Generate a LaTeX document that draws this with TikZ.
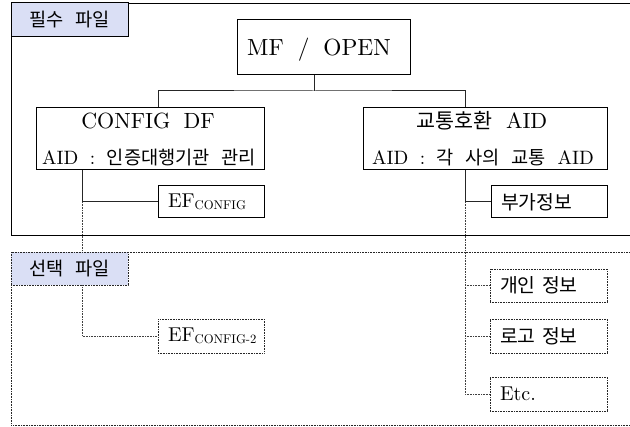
\documentclass[tikz,border=0pt]{standalone}
\usepackage{fontspec}
\setmainfont{lmroman10-regular.otf}[WordSpace=1.8]
\newfontfamily\kr{Noto Sans CJK KR}[WordSpace=2.8]
\definecolor{labfill}{RGB}{218,223,245}
\begin{document}
\begin{tikzpicture}[x=0.75pt,y=-0.75pt,
  box/.style={draw=black, line width=0.75pt, inner sep=0pt},
  dbox/.style={draw=black!85, line width=0.6pt, dash pattern=on 0.6pt off 0.6pt, inner sep=0pt},
  conn/.style={draw=black!85, line width=0.75pt},
  dconn/.style={draw=black!75, line width=0.6pt, dash pattern=on 0.6pt off 0.6pt},
  labtext/.style={font=\kr\fontsize{14}{15}\selectfont},
  krsmall/.style={font=\kr\fontsize{14.5}{16}\selectfont},
  lmsmall/.style={font=\fontsize{15}{16}\selectfont},
  leftbox/.style={inner xsep=7.5pt, inner ysep=0pt, text width=#1, align=left},
  bigtext/.style={font=\fontsize{16.5}{18}\selectfont, anchor=base},
  midtext/.style={font=\fontsize{14.5}{16}\selectfont, anchor=base}
]
\useasboundingbox (0,0) rectangle (630,427);
\fill[white] (0,0) rectangle (630,427);

% frames
\node[box, anchor=north west, minimum width=471.75pt, minimum height=174pt] (req) at (11,3) {};
\node[dbox, anchor=north west, minimum width=471.75pt, minimum height=129.75pt] (opt) at (11,252) {};

% labels
\node[box, fill=labfill, minimum width=87.75pt, minimum height=25.5pt, labtext] (lab1) at (69.5,20) {필수 파일};
\node[dbox, fill=labfill, minimum width=87.75pt, minimum height=24.75pt, labtext] (lab2) at (69.5,268.5) {선택 파일};

% main boxes
\node[box, minimum width=129.75pt, minimum height=41.25pt] (mf) at (323.5,47.5) {};
\node[font=\fontsize{17.5}{20}\selectfont, anchor=base] (mft) at (319,56) {MF / OPEN};

\node[box, minimum width=171pt, minimum height=46.5pt] (cfg) at (150,138.5) {};
\node[bigtext] (cfg1) at (148,129) {CONFIG DF};
\node[midtext] (cfg2) at (149,164.5) {AID : {\kr\fontsize{14}{16}\selectfont 인증대행기관 관리}};

\node[box, minimum width=183pt, minimum height=46.5pt] (tr) at (485,138.5) {};
\node[bigtext] (tr1) at (482,129) {{\kr\fontsize{15.5}{18}\selectfont 교통호환} AID};
\node[midtext] (tr2) at (483,164.5) {AID : {\kr\fontsize{14}{16}\selectfont 각 사의 교통} AID};

% small boxes
\node[box, leftbox=64.5pt, minimum height=24pt, lmsmall] (efc) at (211,202)
  {EF\raisebox{-1.5pt}{\fontsize{9.5}{10}\selectfont CONFIG}};
\node[box, leftbox=72pt, minimum height=24pt, krsmall] (bu) at (549,202) {부가정보};

\node[dbox, leftbox=64.5pt, minimum height=25.5pt, lmsmall] (efc2) at (211,336)
  {EF\raisebox{-1.5pt}{\fontsize{9.5}{10}\selectfont CONFIG-2}};
\node[dbox, leftbox=72.75pt, minimum height=24.75pt, krsmall] (g1) at (548.5,285.5) {개인 정보};
\node[dbox, leftbox=72.75pt, minimum height=25.5pt, krsmall] (g2) at (548.5,336) {로고 정보};
\node[dbox, leftbox=72.75pt, minimum height=25.5pt, lmsmall] (g3) at (548.5,394) {Etc.};

% helper coordinates
\coordinate (j1) at (314,91);
\coordinate (xa) at (158,0);
\coordinate (xb) at (465,0);
\coordinate (xc) at (82,0);

% solid connectors
\draw[conn] (mf.south -| j1) -- (j1);
\draw[conn] (cfg.north -| xa) |- (j1) -| (tr.north -| xb);
\draw[conn] (cfg.south -| xc) |- (efc.west);
\draw[conn] (tr.south -| xb) |- (bu.west);

% dotted connectors
\draw[dconn] (efc.west -| xc) -- (lab2.north -| xc);
\draw[dconn] (lab2.south -| xc) |- (efc2.west);
\draw[dconn] (bu.west -| xb) |- (g3.west);
\draw[dconn] (g1.west -| xb) -- (g1.west);
\draw[dconn] (g2.west -| xb) -- (g2.west);
\end{tikzpicture}
\end{document}
